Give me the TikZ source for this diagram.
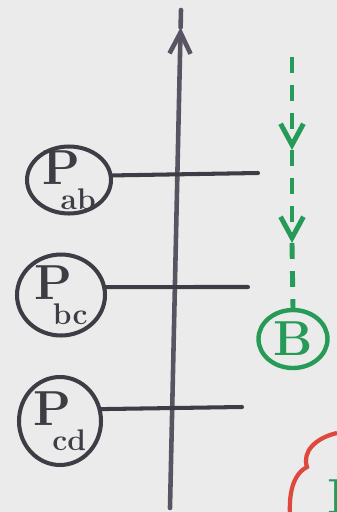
\documentclass[tikz,border=0pt]{standalone}
\usepackage{fontspec}
\usepackage{tikz}
\usetikzlibrary{shapes.geometric, arrows.meta, calc}
\definecolor{paper}{RGB}{234, 235, 234}
\definecolor{inkgray}{RGB}{62, 60, 68}
\definecolor{axisgray}{RGB}{88, 84, 98}
\definecolor{markgreen}{RGB}{38, 155, 88}
\definecolor{markred}{RGB}{222, 72, 62}
\newcommand{\Pidx}[1]{P\kern-11pt\raisebox{-0.52em}{\fontsize{17}{18}\selectfont\bfseries #1}}
\tikzset{
  pnode/.style={ellipse, draw=inkgray, line width=2.3pt, inner sep=-5pt, font=\fontsize{28}{30}\selectfont\bfseries, text=inkgray},
  bnode/.style={pnode, draw=markgreen, text=markgreen, line width=2.5pt},
  axisline/.style={draw=axisgray, line width=2.6pt, line cap=round},
  levelline/.style={draw=inkgray, line width=2.3pt, line cap=round},
  flowline/.style={draw=markgreen, line width=2.8pt, dash pattern=on 9pt off 7pt},
  flowarrow/.style={flowline, -{Straight Barb[length=12pt, width=13pt]}},
  cloudline/.style={draw=markred, line width=2.4pt},
}

\begin{document}
\begin{tikzpicture}[x=0.02cm, y=-0.02cm]
  \fill[paper] (0,0) rectangle (337,512);
  \useasboundingbox (0,0) rectangle (337,512);
  \clip (0,0) rectangle (337,512);

  \coordinate (axbot) at (170,508);
  \coordinate (axtop) at (181,10);
  \coordinate (axtip) at ($(axbot)!0.965!(axtop)$);
  \draw[axisline, -{Straight Barb[length=12pt, width=12pt]}] (axbot) -- (axtip);
  \draw[axisline] (axtip) -- (axtop);

  \node[pnode, minimum width=1.68cm, minimum height=1.34cm] (pab) at (69,180) {\Pidx{ab}};
  \node[pnode, minimum width=1.76cm, minimum height=1.62cm] (pbc) at (61,295) {\Pidx{bc}};
  \node[pnode, minimum width=1.64cm, minimum height=1.76cm] (pcd) at (60,421) {\Pidx{cd}};
  \node[bnode, minimum width=1.38cm, minimum height=1.16cm] (b) at (293,339) {B};

  \coordinate (abend) at (258,173);
  \coordinate (bcend) at (248,287);
  \coordinate (cdend) at (242,407);
  \draw[levelline] (pab.6) -- (abend);
  \draw[levelline] (pbc.10) -- (bcend);
  \draw[levelline] (pcd.16) -- (cdend);

  \coordinate (gtop) at (292,57);
  \coordinate (g1) at (292,150);
  \coordinate (g2) at (292,243);
  \draw[flowarrow] (gtop) -- (g1);
  \draw[flowarrow] (g1) -- (g2);
  \draw[flowline] (g2) -- (b.north);

  \draw[cloudline] (337,433) .. controls (315,438) and (302,452) .. (307,467)
    .. controls (292,475) and (289,495) .. (290,515);
  \node[text=markgreen, font=\fontsize{28}{30}\selectfont\bfseries, anchor=north west, inner sep=0pt] (cloudtxt) at (327,479) {B};
\end{tikzpicture}
\end{document}
